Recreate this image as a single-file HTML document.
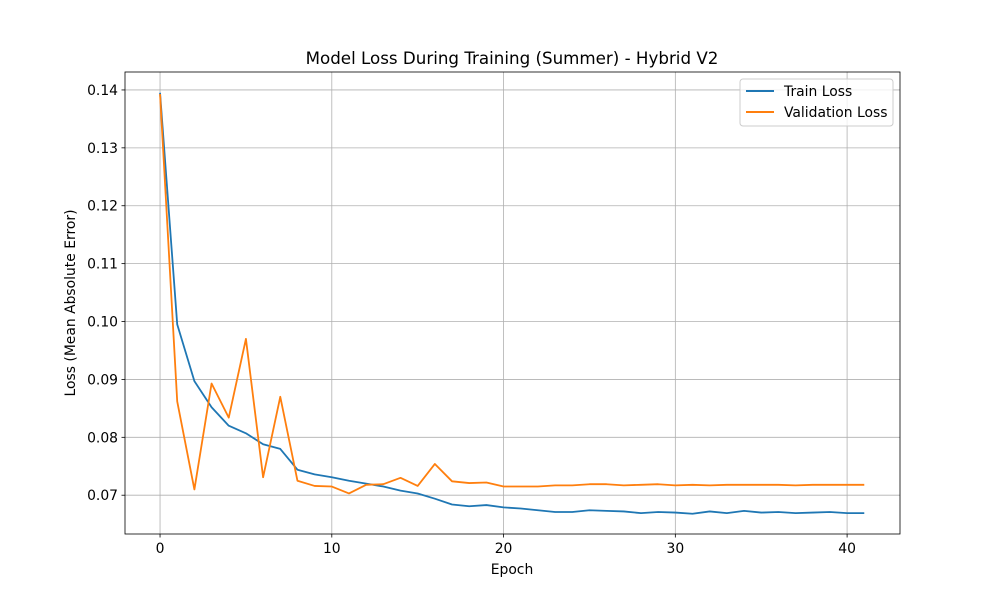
<!DOCTYPE html>
<html><head><meta charset="utf-8"><style>
body{margin:0;background:#fff}
svg text{font-family:"DejaVu Sans","Liberation Sans",sans-serif;fill:#000}
</style></head><body>
<svg id="chart" width="1000" height="600" viewBox="0 0 1000 600">
<rect width="1000" height="600" fill="#fff"/>
<g id="grid"></g><g id="series"></g><g id="axes"></g>
<text x="512" y="64" font-size="16.7" text-anchor="middle">Model Loss During Training (Summer) - Hybrid V2</text>
<text x="512" y="574" font-size="13.9" text-anchor="middle">Epoch</text>
<text x="75" y="303" font-size="13.9" text-anchor="middle" transform="rotate(-90 75 303)">Loss (Mean Absolute Error)</text>
<g>
<rect x="740" y="79" width="153" height="47" rx="3" fill="#fff" fill-opacity="0.8" stroke="#ccc"/>
<line x1="746" y1="91" x2="774" y2="91" stroke="#1f77b4" stroke-width="2"/>
<text x="784" y="96" font-size="13.9">Train Loss</text>
<line x1="746" y1="112" x2="774" y2="112" stroke="#ff7f0e" stroke-width="2"/>
<text x="784" y="117" font-size="13.9">Validation Loss</text>
</g>
</svg>
<script>
const trainLoss=[0.1395,0.0995,0.0897,0.0852,0.0820,0.0807,0.0788,0.0780,0.0744,0.0736,0.0731,0.0725,0.0720,0.0715,0.0708,0.0703,0.0694,0.0684,0.0681,0.0683,0.0679,0.0677,0.0674,0.0671,0.0671,0.0674,0.0673,0.0672,0.0669,0.0671,0.0670,0.0668,0.0672,0.0669,0.0673,0.0670,0.0671,0.0669,0.0670,0.0671,0.0669,0.0669];
const valLoss=[0.1393,0.0862,0.0710,0.0893,0.0834,0.0970,0.0731,0.0870,0.0725,0.0716,0.0715,0.0703,0.0718,0.0719,0.0730,0.0716,0.0754,0.0724,0.0721,0.0722,0.0715,0.0715,0.0715,0.0717,0.0717,0.0719,0.0719,0.0717,0.0718,0.0719,0.0717,0.0718,0.0717,0.0718,0.0718,0.0718,0.0718,0.0717,0.0718,0.0718,0.0718,0.0718];
const xTicks=[0,10,20,30,40];
const yTicks=[0.07,0.08,0.09,0.10,0.11,0.12,0.13,0.14];
const L=125,R=900,T=72,B=534;
const xMin=-2.04,xMax=43.08,yMin=0.0633,yMax=0.1431;
const sx=v=>L+(v-xMin)/(xMax-xMin)*(R-L);
const sy=v=>B-(v-yMin)/(yMax-yMin)*(B-T);
const NS="http://www.w3.org/2000/svg";
function mk(tag,attrs,parent,txt){const e=document.createElementNS(NS,tag);for(const k in attrs)e.setAttribute(k,attrs[k]);if(txt!==undefined)e.textContent=txt;parent.appendChild(e);return e;}
const grid=document.getElementById('grid'),axes=document.getElementById('axes'),series=document.getElementById('series');
xTicks.forEach(t=>{const x=sx(t);
const g=mk('line',{x1:x,x2:x,y1:T,y2:B,stroke:'#b0b0b0','stroke-width':0.8},grid);


mk('line',{x1:x,x2:x,y1:B,y2:B+3.5,stroke:'#000','stroke-width':0.8},axes);
const l=mk('text',{x:x,y:B+19,'font-size':13.9,'text-anchor':'middle'},axes,String(t));

});
yTicks.forEach(t=>{const y=sy(t);
const g=mk('line',{x1:L,x2:R,y1:y,y2:y,stroke:'#b0b0b0','stroke-width':0.8},grid);


mk('line',{x1:L-3.5,x2:L,y1:y,y2:y,stroke:'#000','stroke-width':0.8},axes);
const l=mk('text',{x:L-7,y:y+5,'font-size':13.9,'text-anchor':'end'},axes,t.toFixed(2));

});
const fr=mk('rect',{x:L,y:T,width:R-L,height:B-T,fill:'none',stroke:'#000','stroke-width':0.8},axes);


function line(d,c,name){const p=mk('polyline',{points:d.map((v,i)=>sx(i)+','+sy(v)).join(' '),fill:'none',stroke:c,'stroke-width':1.8,'stroke-linejoin':'round'},series);

}
line(trainLoss,'#1f77b4','train-loss-line');
line(valLoss,'#ff7f0e','validation-loss-line');
</script>
</body></html>
